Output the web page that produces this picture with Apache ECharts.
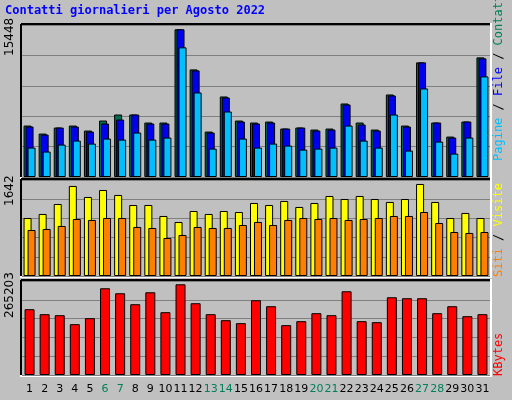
<!DOCTYPE html><html><head><meta charset="utf-8">
<script src="https://cdn.jsdelivr.net/npm/echarts@6/dist/echarts.min.js"></script>
<style>html,body{margin:0;padding:0;background:#c0c0c0}#c{width:512px;height:400px}</style></head><body><div id="c"></div>
<script>
const days=['1','2','3','4','5','6','7','8','9','10','11','12','13','14','15','16','17','18','19','20','21','22','23','24','25','26','27','28','29','30','31'];
const weekend=['6','7','13','14','20','21','27','28'];
const contatti=[5382,4543,5172,5382,4858,5906,6535,6535,5697,5697,15448,11254,4753,8423,5906,5697,5802,5068,5172,4963,5068,7689,5697,4963,8633,5382,11988,5697,4229,5802,12512];
const file=[5277,4438,5172,5277,4753,5592,6011,6535,5592,5592,15448,11149,4648,8318,5802,5592,5697,5068,5172,4858,4963,7584,5487,4858,8528,5277,11988,5697,4124,5802,12407];
const pagine=[3076,2656,3390,3809,3495,4019,3914,4648,3914,4124,13561,8842,2971,6850,4019,3076,3495,3285,2866,2971,3076,5382,3809,3076,6535,2761,9262,3705,2447,4124,10520];
const visite=[1035,1107,1285,1607,1410,1535,1446,1267,1267,1071,964,1160,1107,1160,1142,1303,1267,1339,1232,1303,1428,1374,1428,1374,1321,1374,1642,1321,1035,1125,1035];
const siti=[821,839,893,1017,1000,1035,1035,875,857,678,732,875,857,857,910,964,910,1000,1035,1017,1035,1000,1017,1035,1071,1071,1142,946,785,768,785];
const kbytes=[192340,177770,174850,148630,166110,253540,238970,206910,241880,183600,265203,209830,177770,160280,151540,218570,201080,145710,157370,180680,174850,244800,157370,154450,227310,224400,224400,180680,201080,171940,177770];
const maxLabels=['15448','1642','265203'];
const ch=echarts.init(document.getElementById('c'));
const grids=[{top:25,h:152,M:15900},{top:180,h:96,M:1713},{top:281,h:94,M:274820}];
const L=22,W=468;
const ff='DejaVu Sans Mono';
function ya(i,M){return {gridIndex:i,type:'value',min:0,max:M,interval:M/5,axisLabel:{show:false},axisLine:{show:false},axisTick:{show:false},splitLine:{lineStyle:{color:'#808080',width:1}}};}
function xa(i,lab){return {gridIndex:i,type:'category',data:days,axisLine:{show:false},axisTick:{show:false},
 axisLabel:{show:lab,interval:0,margin:9,fontFamily:'DejaVu Sans',fontSize:11,formatter:v=>weekend.includes(v)?'{w|'+v+'}':'{n|'+v+'}',rich:{w:{color:'#00805a',fontFamily:'DejaVu Sans',fontSize:11},n:{color:'#000',fontFamily:'DejaVu Sans',fontSize:11}}}};}
const bs={borderColor:'#000',borderWidth:1};
const gfx=[];
grids.forEach(g=>{
 gfx.push({type:'line',shape:{x1:L-1,y1:g.top-1,x2:L+W,y2:g.top-1},style:{stroke:'#000',lineWidth:2}});
 gfx.push({type:'line',shape:{x1:L-1,y1:g.top-1,x2:L-1,y2:g.top+g.h+1},style:{stroke:'#000',lineWidth:2}});
 gfx.push({type:'line',shape:{x1:L+W+1,y1:g.top-2,x2:L+W+1,y2:g.top+g.h+1},style:{stroke:'#fff',lineWidth:2}});
 gfx.push({type:'line',shape:{x1:L-2,y1:g.top+g.h+1,x2:L+W+2,y2:g.top+g.h+1},style:{stroke:'#fff',lineWidth:2}});
});
gfx.push({type:'text',left:5,top:5,style:{text:'Contatti giornalieri per Agosto 2022',fill:'#0000ff',font:'bold 12px "DejaVu Sans Mono"'}});
[[maxLabels[0],56],[maxLabels[1],206],[maxLabels[2],318]].forEach(([t,y])=>gfx.push({type:'text',x:10,y:y,rotation:Math.PI/2,style:{text:t,fill:'#000',font:'12px "DejaVu Sans"',align:'left',verticalAlign:'middle'}}));
function side(y,parts){gfx.push({type:'text',x:499,y:y,rotation:Math.PI/2,style:{text:parts.map((p,i)=>'{s'+i+'|'+p[0]+'}').join(''),rich:Object.fromEntries(parts.map((p,i)=>['s'+i,{fill:p[1],font:'12px "DejaVu Sans Mono"'}])),align:'left',verticalAlign:'middle'}});}
side(161,[['Pagine','#00bfff'],[' / ','#000'],['File','#0000ff'],[' / ','#000'],['Contatti','#00805a']]);
side(277,[['Siti','#ff8000'],[' / ','#000'],['Visite','#ffff00']]);
side(376,[['KBytes','#ff0000']]);
ch.setOption({animation:false,backgroundColor:'#c0c0c0',
 grid:grids.map(g=>({left:L,width:W,top:g.top,height:g.h})),
 xAxis:[xa(0,false),xa(1,false),xa(2,true)],
 yAxis:grids.map((g,i)=>ya(i,g.M)),
 series:[
  {type:'bar',name:'Contatti',data:contatti,xAxisIndex:0,yAxisIndex:0,barWidth:8,barGap:'-75%',itemStyle:{color:'#006b50',...bs}},
  {type:'bar',name:'File',data:file,xAxisIndex:0,yAxisIndex:0,barWidth:8,barGap:'-75%',itemStyle:{color:'#0000ee',...bs}},
  {type:'bar',name:'Pagine',data:pagine,xAxisIndex:0,yAxisIndex:0,barWidth:8,barGap:'-75%',itemStyle:{color:'#00bfff',...bs}},
  {type:'bar',name:'Visite',data:visite,xAxisIndex:1,yAxisIndex:1,barWidth:8,barGap:'-50%',itemStyle:{color:'#ffff00',...bs}},
  {type:'bar',name:'Siti',data:siti,xAxisIndex:1,yAxisIndex:1,barWidth:8,barGap:'-50%',itemStyle:{color:'#ff8000',...bs}},
  {type:'bar',name:'KBytes',data:kbytes,xAxisIndex:2,yAxisIndex:2,barWidth:10,itemStyle:{color:'#ff0000',...bs}}
 ],
 graphic:gfx});
</script></body></html>
